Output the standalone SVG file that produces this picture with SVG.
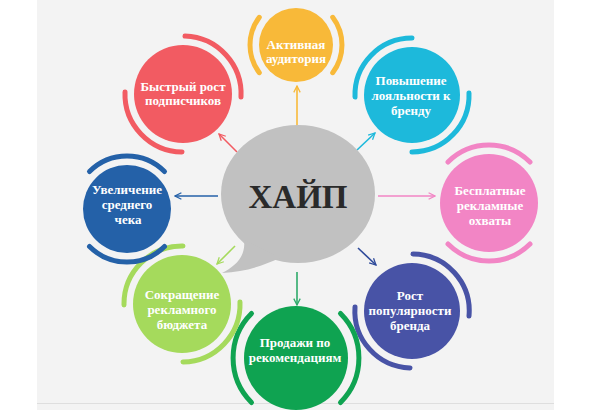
<svg xmlns="http://www.w3.org/2000/svg" width="591" height="410" viewBox="0 0 591 410">
<style>
.arc{fill:none;stroke-width:5;stroke-linecap:round}
.con{fill:none;stroke-width:1.6}
.lbl{font-family:"Liberation Serif","Times New Roman",serif;font-size:13px;font-weight:bold;fill:#fff;text-anchor:middle}
.reg{font-weight:bold}
</style>
<defs>
<marker id="mo" viewBox="0 0 10 10" refX="9" refY="5" markerWidth="8" markerHeight="8" markerUnits="userSpaceOnUse" orient="auto"><path d="M1,1 L9,5 L1,9" fill="none" stroke="#F8B939" stroke-width="1.6"/></marker>
<marker id="mc" viewBox="0 0 10 10" refX="9" refY="5" markerWidth="8" markerHeight="8" markerUnits="userSpaceOnUse" orient="auto"><path d="M1,1 L9,5 L1,9" fill="none" stroke="#1DB9DB" stroke-width="1.6"/></marker>
<marker id="mp" viewBox="0 0 10 10" refX="9" refY="5" markerWidth="8" markerHeight="8" markerUnits="userSpaceOnUse" orient="auto"><path d="M1,1 L9,5 L1,9" fill="none" stroke="#F285C5" stroke-width="1.6"/></marker>
<marker id="mi" viewBox="0 0 10 10" refX="9" refY="5" markerWidth="8" markerHeight="8" markerUnits="userSpaceOnUse" orient="auto"><path d="M1,1 L9,5 L1,9" fill="none" stroke="#2E4A9A" stroke-width="1.6"/></marker>
<marker id="mg" viewBox="0 0 10 10" refX="9" refY="5" markerWidth="8" markerHeight="8" markerUnits="userSpaceOnUse" orient="auto"><path d="M1,1 L9,5 L1,9" fill="none" stroke="#2EAA6A" stroke-width="1.6"/></marker>
<marker id="ml" viewBox="0 0 10 10" refX="9" refY="5" markerWidth="8" markerHeight="8" markerUnits="userSpaceOnUse" orient="auto"><path d="M1,1 L9,5 L1,9" fill="none" stroke="#A5DA5C" stroke-width="1.6"/></marker>
<marker id="mb" viewBox="0 0 10 10" refX="9" refY="5" markerWidth="8" markerHeight="8" markerUnits="userSpaceOnUse" orient="auto"><path d="M1,1 L9,5 L1,9" fill="none" stroke="#2461A8" stroke-width="1.6"/></marker>
<marker id="mr" viewBox="0 0 10 10" refX="9" refY="5" markerWidth="8" markerHeight="8" markerUnits="userSpaceOnUse" orient="auto"><path d="M1,1 L9,5 L1,9" fill="none" stroke="#F25B62" stroke-width="1.6"/></marker>
</defs>
<rect x="0" y="0" width="591" height="410" fill="#ffffff"/>
<rect x="37" y="0" width="517" height="410" fill="#f3f3f3"/>
<line x1="37" y1="403.5" x2="554" y2="403.5" stroke="#dedede" stroke-width="1"/>

<g id="connectors">
<line class="con" x1="297" y1="127" x2="297" y2="86" stroke="#F8B939" marker-end="url(#mo)"/>
<line class="con" x1="357" y1="150" x2="375" y2="133" stroke="#1DB9DB" marker-end="url(#mc)"/>
<line class="con" x1="378" y1="196" x2="435" y2="196" stroke="#F285C5" marker-end="url(#mp)"/>
<line class="con" x1="358" y1="248" x2="376" y2="265" stroke="#2E4A9A" marker-end="url(#mi)"/>
<line class="con" x1="297" y1="272" x2="297" y2="305" stroke="#2EAA6A" marker-end="url(#mg)"/>
<line class="con" x1="235" y1="246" x2="217" y2="264" stroke="#A5DA5C" marker-end="url(#ml)"/>
<line class="con" x1="218" y1="196" x2="175" y2="196" stroke="#2461A8" marker-end="url(#mb)"/>
<line class="con" x1="237" y1="152" x2="219" y2="134" stroke="#F25B62" marker-end="url(#mr)"/>
</g>

<g id="hype">
<ellipse cx="298" cy="194" rx="77" ry="69" fill="#C1C1C1"/>
<path d="M244,240 C246,256 236,266 222,273 C245,272 262,266 280,258 Z" fill="#C1C1C1"/>
<text x="298" y="208" font-family="'Liberation Serif','Times New Roman',serif" font-size="33" font-weight="bold" fill="#2a2a2a" text-anchor="middle">ХАЙП</text>
</g>

<g id="n-audience">
<circle cx="296" cy="45" r="37" fill="#F8B939"/>
<path class="arc" stroke="#F8B939" d="M259.3,17.3 A46,46 0 0 0 259.3,72.7"/>
<path class="arc" stroke="#F8B939" d="M332.7,17.3 A46,46 0 0 1 332.7,72.7"/>
<text class="lbl" x="296" y="49">Активная</text>
<text class="lbl" x="296" y="63">аудитория</text>
</g>

<g id="n-loyalty">
<circle cx="412" cy="95" r="48" fill="#1DB9DB"/>
<path class="arc" stroke="#1DB9DB" d="M355,97 A57,57 0 0 1 412,38"/>
<path class="arc" stroke="#1DB9DB" d="M469,93 A57,57 0 0 1 412,152"/>
<text class="lbl" x="411" y="85">Повышение</text>
<text class="lbl" x="411" y="100">лояльности к</text>
<text class="lbl" x="411" y="115">бренду</text>
</g>

<g id="n-reach">
<circle cx="489" cy="203" r="49" fill="#F285C5"/>
<path class="arc" stroke="#F285C5" d="M448,162 A58,58 0 0 1 530,162"/>
<path class="arc" stroke="#F285C5" d="M448,244 A58,58 0 0 0 530,244"/>
<text class="lbl" x="490" y="195">Бесплатные</text>
<text class="lbl" x="490" y="210">рекламные</text>
<text class="lbl" x="490" y="225">охваты</text>
</g>

<g id="n-popularity">
<circle cx="412" cy="311" r="48" fill="#4853A6"/>
<path class="arc" stroke="#4853A6" d="M413,254 A57,57 0 0 1 469,316"/>
<path class="arc" stroke="#4853A6" d="M355,307 A57,57 0 0 0 410,368"/>
<text class="lbl" x="410" y="300">Рост</text>
<text class="lbl" x="410" y="315">популярности</text>
<text class="lbl" x="410" y="330">бренда</text>
</g>

<g id="n-sales">
<circle cx="296" cy="358" r="52" fill="#0FA351"/>
<path class="arc" stroke="#0FA351" d="M251.5,313.5 A63,63 0 0 0 251.5,402.5"/>
<path class="arc" stroke="#0FA351" d="M340.5,313.5 A63,63 0 0 1 340.5,402.5"/>
<text class="lbl" x="295" y="347">Продажи по</text>
<text class="lbl" x="295" y="362">рекомендациям</text>
</g>

<g id="n-budget">
<circle cx="182" cy="304" r="49" fill="#A5DA5C"/>
<path class="arc" stroke="#A5DA5C" d="M124,305 A58,58 0 0 1 183,246"/>
<path class="arc" stroke="#A5DA5C" d="M240,302 A58,58 0 0 1 183,362"/>
<text class="lbl" x="182" y="299">Сокращение</text>
<text class="lbl" x="182" y="314">рекламного</text>
<text class="lbl" x="182" y="329">бюджета</text>
</g>

<g id="n-check">
<circle cx="127" cy="209" r="44" fill="#2461A8"/>
<path class="arc" stroke="#2461A8" d="M89.5,171.5 A53,53 0 0 1 164.5,171.5"/>
<path class="arc" stroke="#2461A8" d="M89.5,246.5 A53,53 0 0 0 164.5,246.5"/>
<text class="lbl" x="127" y="194">Увеличение</text>
<text class="lbl" x="127" y="209">среднего</text>
<text class="lbl" x="128" y="224">чека</text>
</g>

<g id="n-subscribers">
<circle cx="183" cy="94" r="49" fill="#F25B62"/>
<path class="arc" stroke="#F25B62" d="M185,36 A58,58 0 0 1 241,97"/>
<path class="arc" stroke="#F25B62" d="M125,92 A58,58 0 0 0 182,152"/>
<text class="lbl" x="183" y="91">Быстрый рост</text>
<text class="lbl" x="183" y="105">подписчиков</text>
</g>
</svg>
